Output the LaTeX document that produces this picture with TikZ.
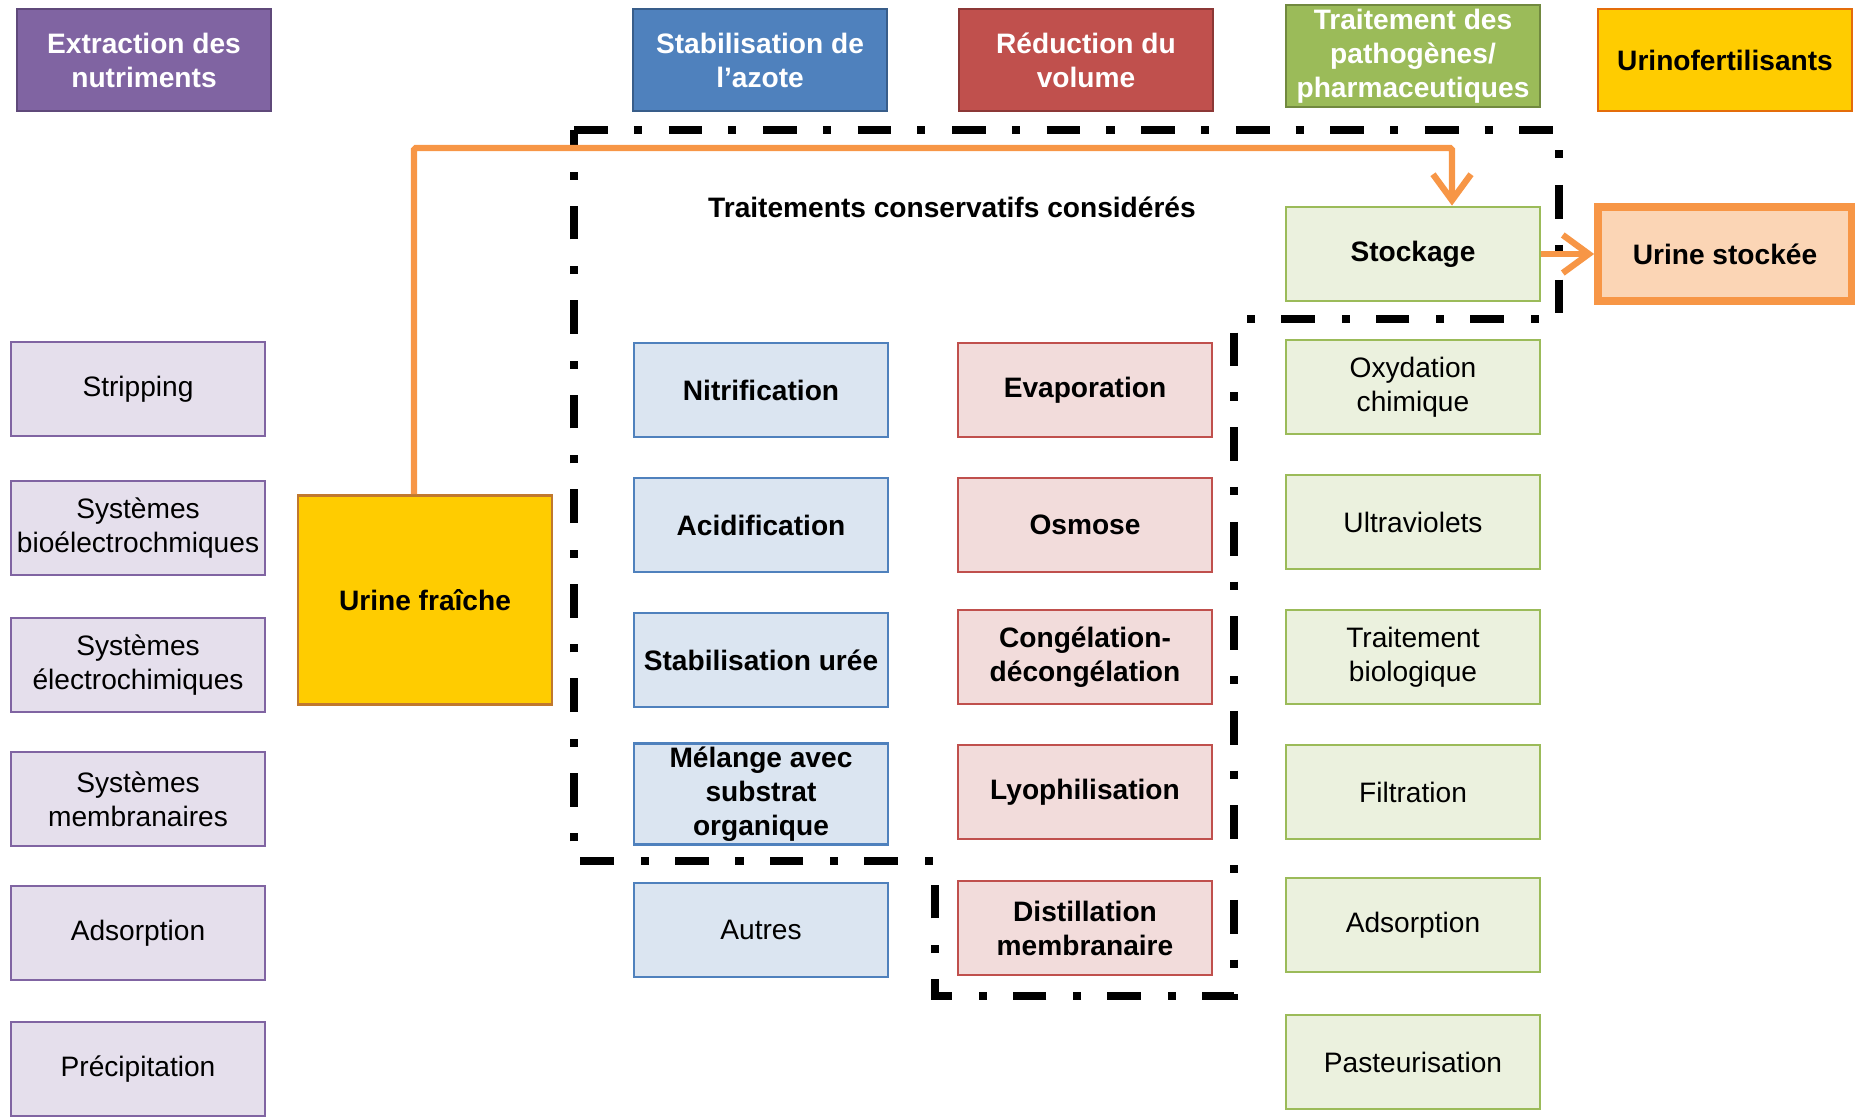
\documentclass[tikz,border=0pt]{standalone}
\usepackage{fontspec}
\setmainfont{Liberation Sans}
\usetikzlibrary{positioning, arrows.meta}

\definecolor{violet1}{HTML}{8064A2}
\definecolor{violet2}{HTML}{5F497A}
\definecolor{violet3}{HTML}{E5DFEC}
\definecolor{bleu1}{HTML}{4F81BD}
\definecolor{bleu2}{HTML}{385D8A}
\definecolor{bleu3}{HTML}{DBE5F1}
\definecolor{rouge1}{HTML}{C0504D}
\definecolor{rouge2}{HTML}{8C3836}
\definecolor{rouge3}{HTML}{F2DCDB}
\definecolor{vert1}{HTML}{9BBB59}
\definecolor{vert2}{HTML}{71893F}
\definecolor{vert3}{HTML}{EBF1DE}
\definecolor{jaune}{HTML}{FFCC00}
\definecolor{orange1}{HTML}{F79646}
\definecolor{orange2}{HTML}{E46C0A}
\definecolor{brun}{HTML}{C0782E}
\definecolor{peche}{HTML}{FBD5B5}

\begin{document}
\begin{tikzpicture}[> = {Straight Barb[length=2.6mm, width=3.8mm]},
			font = \fontsize{8}{9.7}\selectfont,
			box/.style = {draw, line width=0.8pt, align=center,
				minimum width=2.54cm, minimum height=0.94cm, inner sep=1pt},
			head/.style = {box, minimum height=1.02cm, text=white, font=\fontsize{8}{9.7}\selectfont\bfseries},
			nutribox/.style = {box, draw=violet1, fill=violet3},
			azotebox/.style = {box, draw=bleu1, fill=bleu3},
			volbox/.style = {box, draw=rouge1, fill=rouge3},
			pathobox/.style = {box, draw=vert1, fill=vert3},
			gras/.style = {font=\fontsize{8}{9.7}\selectfont\bfseries},
			flux/.style = {orange1, line width=1.8pt},
			cadre/.style = {line width=2.1pt, dash pattern=on 9.6pt off 7.4pt on 2.3pt off 7.6pt}]
			\useasboundingbox (0,0) rectangle (18.55,-11.17);
			
			% categories
			\node [head, fill=violet1, draw=violet2] (nutri) at (1.44,-0.60) {Extraction des\\nutriments};
			\node [head, fill=bleu1, draw=bleu2] (azote) at (7.60,-0.60) {Stabilisation de\\l’azote};
			\node [head, fill=rouge1, draw=rouge2] (volume) at (10.86,-0.60) {Réduction du\\volume};
			\node [head, fill=vert1, draw=vert2] (patho) at (14.13,-0.56) {Traitement des\\pathogènes/\\pharmaceutiques};
			\node [head, fill=jaune, draw=orange2, text=black] (urinofert) at (17.25,-0.60) {Urinofertilisants};
			
			% extraction des nutriments
			\node [nutribox] (strip) at (1.38,-3.89) {Stripping};
			\node [nutribox] (bioelec) at (1.38,-5.28) {Systèmes\\bioélectrochmiques};
			\node [nutribox] (elec) at (1.38,-6.65) {Systèmes\\électrochimiques};
			\node [nutribox] (membr) at (1.38,-7.99) {Systèmes\\membranaires};
			\node [nutribox] (adsnutri) at (1.38,-9.33) {Adsorption};
			\node [nutribox] (precip) at (1.38,-10.69) {Précipitation};
			
			\node [box, gras, fill=jaune, draw=brun, minimum height=2.09cm] (fraiche) at (4.25,-6.00) {Urine fraîche};
			
			% stabilisation de l'azote
			\node [azotebox, gras] (nitri) at (7.61,-3.90) {Nitrification};
			\node [azotebox, gras] (acid) at (7.61,-5.25) {Acidification};
			\node [azotebox, gras] (uree) at (7.61,-6.60) {Stabilisation urée};
			\node [azotebox, gras] (melange) at (7.61,-7.94) {Mélange avec\\substrat\\organique};
			\node [azotebox] (autres) at (7.61,-9.30) {Autres};
			
			% reduction du volume
			\node [volbox, gras] (evap) at (10.85,-3.90) {Evaporation};
			\node [volbox, gras] (osmose) at (10.85,-5.25) {Osmose};
			\node [volbox, gras] (congel) at (10.85,-6.57) {Congélation-\\décongélation};
			\node [volbox, gras] (lyo) at (10.85,-7.92) {Lyophilisation};
			\node [volbox, gras] (distil) at (10.85,-9.28) {Distillation\\membranaire};
			
			% pathogenes / pharmaceutiques
			\node [pathobox, gras] (stockage) at (14.13,-2.54) {Stockage};
			\node [pathobox] (oxy) at (14.13,-3.87) {Oxydation\\chimique};
			\node [pathobox] (uv) at (14.13,-5.22) {Ultraviolets};
			\node [pathobox] (bio) at (14.13,-6.57) {Traitement\\biologique};
			\node [pathobox] (filtr) at (14.13,-7.92) {Filtration};
			\node [pathobox] (adspatho) at (14.13,-9.25) {Adsorption};
			\node [pathobox] (pasteur) at (14.13,-10.62) {Pasteurisation};
			
			\node [box, gras, fill=peche, draw=orange1, line width=2.2pt] (stockee) at (17.25,-2.54) {Urine stockée};
			
			\node [gras] (titre) at (9.52,-2.07) {Traitements conservatifs considérés};
			
			% traitements retenus
			\draw [cadre] (5.74,-1.30) -- (15.59,-1.30) -- (15.59,-3.19) -- (12.34,-3.19)
			-- (12.34,-9.96) -- (9.35,-9.96) -- (9.35,-8.61) -- (5.74,-8.61) -- cycle;
			
			% parcours de l'urine
			\coordinate (montee) at (4.14,-1.48);
			\coordinate (descente) at (14.52,-1.48);
			\draw [flux, ->, rounded corners=0.5pt] (fraiche.north -| montee) -- (montee) -- (descente) -- (stockage.north -| descente);
			\draw [flux, ->] (stockage) -- (stockee);
		\end{tikzpicture}
\end{document}
